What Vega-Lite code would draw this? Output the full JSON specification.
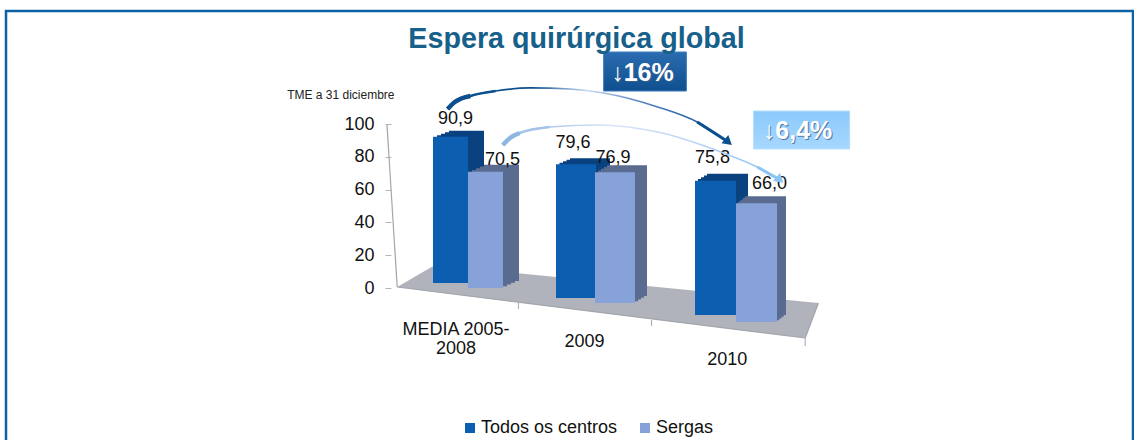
{"$schema":"https://vega.github.io/schema/vega-lite/v6.json","width":1127,"height":440,"autosize":"none","padding":{"left":6,"top":11,"right":1,"bottom":0},"background":"white","view":{"stroke":"#0b62a4","strokeWidth":2.5},"config":{"font":"Liberation Sans","legend":{"orient":"none","legendX":455,"legendY":408,"direction":"horizontal","columns":2,"columnPadding":18,"symbolType":"square","symbolSize":100,"symbolStrokeWidth":0,"labelFontSize":18,"labelColor":"#111111","labelOffset":2,"padding":0}},"title":{"text":"Espera quirúrgica global","fontSize":28.7,"fontWeight":"bold","color":"#17608a","anchor":"middle","dx":7,"dy":43,"offset":0},"datasets":{"bars":[{"cat":"MEDIA 2005-2008","series":"Todos os centros","value":90.9,"label":"90,9"},{"cat":"MEDIA 2005-2008","series":"Sergas","value":70.5,"label":"70,5"},{"cat":"2009","series":"Todos os centros","value":79.6,"label":"79,6"},{"cat":"2009","series":"Sergas","value":76.9,"label":"76,9"},{"cat":"2010","series":"Todos os centros","value":75.8,"label":"75,8"},{"cat":"2010","series":"Sergas","value":66.0,"label":"66,0"}],"floor":[{"ux":-0.19,"uy":0.6,"uy2":0.6},{"ux":0.125,"uy":14.0,"uy2":-2.4},{"ux":3.21,"uy":-8.35,"uy2":-30.5},{"ux":3.32,"uy":-9.15,"uy2":-9.15}],"edge":[{"ux":-0.275,"uy":99.4,"e":"wall"},{"ux":-0.19,"uy":0.6,"e":"wall"},{"ux":-0.19,"uy":0.6,"e":"front"},{"ux":3.21,"uy":-30.5,"e":"front"},{"ux":3.21,"uy":-30.5,"e":"right"},{"ux":3.32,"uy":-9.15,"e":"right"}],"ticks":[{"ux":0.82,"uy":-9.15,"uy2":-12.8},{"ux":1.93,"uy":-19.5,"uy2":-23.2},{"ux":3.21,"uy":-30.5,"uy2":-35.4}],"cats":[{"label":"MEDIA 2005-\n2008","ux":0.3,"uy":-25.6},{"label":"2009","ux":1.37,"uy":-32.9},{"label":"2010","ux":2.56,"uy":-43.9}],"arcs":[{"arc":"a","ux":0.23,"uy":109.1},{"arc":"a","ux":0.29,"uy":113.4},{"arc":"a","ux":0.42,"uy":117.1},{"arc":"a","ux":0.63,"uy":120.1},{"arc":"a","ux":0.92,"uy":122},{"arc":"a","ux":1.25,"uy":121.3},{"arc":"a","ux":1.53,"uy":118.9},{"arc":"a","ux":1.98,"uy":110.4},{"arc":"a","ux":2.31,"uy":101.2},{"arc":"a","ux":2.57,"uy":89},{"arc":"b","ux":0.69,"uy":87.2},{"arc":"b","ux":0.75,"uy":91.5},{"arc":"b","ux":0.83,"uy":94.5},{"arc":"b","ux":1.08,"uy":98.2},{"arc":"b","ux":1.48,"uy":99.4},{"arc":"b","ux":1.98,"uy":95.1},{"arc":"b","ux":2.53,"uy":82.3},{"arc":"b","ux":2.81,"uy":73.8},{"arc":"b","ux":3.0,"uy":65.9}],"badges":[{"arc":"a","ux":1.53,"ux2":2.22,"uy":143.9,"uy2":120.1},{"arc":"b","ux":2.78,"ux2":3.58,"uy":107.9,"uy2":84.8}],"badgeText":[{"text":"↓16%","ux":1.854,"uy":131.1},{"text":"↓6,4%","ux":3.146,"uy":95.7}]},"data":{"name":"bars"},"resolve":{"scale":{"x":"independent","y":"independent"},"axis":{"x":"independent","y":"independent"}},"layer":[{"encoding":{"x":{"field":"ux","type":"quantitative","axis":null,"scale":{"domain":[0,3],"range":[414,774],"zero":false,"nice":false}},"y":{"field":"uy","type":"quantitative","title":"TME a 31 diciembre","scale":{"domain":[0,100],"range":[277,113],"zero":false,"nice":false},"axis":{"orient":"left","offset":-385,"domain":false,"ticks":true,"tickSize":6,"tickColor":"#b5b5b5","grid":false,"values":[0,20,40,60,80,100],"labelFontSize":18,"labelColor":"#111111","labelPadding":11,"titleFontSize":12,"titleFontWeight":"normal","titleColor":"#222222","titleAngle":0,"titleAlign":"right","titleBaseline":"middle","titleX":3,"titleY":83}}},"layer":[{"data":{"name":"floor"},"mark":{"type":"area","color":"#b0b3bc","stroke":null},"encoding":{"y2":{"field":"uy2"}}},{"data":{"name":"edge"},"mark":{"type":"line","color":"#a3a6ad","strokeWidth":1.2},"encoding":{"detail":{"field":"e"}}},{"data":{"name":"ticks"},"mark":{"type":"rule","color":"#a3a6ad"},"encoding":{"y2":{"field":"uy2"}}},{"data":{"name":"cats"},"mark":{"type":"text","fontSize":18,"color":"#111111","lineBreak":"\n","lineHeight":19,"baseline":"middle"},"encoding":{"text":{"field":"label"}}}]},{"transform":[{"filter":"datum.cat=='MEDIA 2005-2008' && datum.series=='Todos os centros'"}],"encoding":{"x":{"field":"cat","type":"nominal","axis":null,"scale":{"range":[427,462],"padding":0}},"y":{"field":"value","type":"quantitative","axis":null,"scale":{"domain":[0,100],"range":[272,111],"nice":false}}},"layer":[{"mark":{"type":"bar","color":"#0a4280","xOffset":16,"yOffset":-6}},{"mark":{"type":"bar","color":"#0a4280","xOffset":12,"yOffset":-4.5}},{"mark":{"type":"bar","color":"#0a4280","xOffset":8,"yOffset":-3}},{"mark":{"type":"bar","color":"#0a4280","xOffset":4,"yOffset":-1.5}},{"mark":{"type":"bar"},"encoding":{"color":{"field":"series","type":"nominal","title":null,"scale":{"domain":["Todos os centros","Sergas"],"range":["#0c5fb0","#86a2d8"]}}}},{"mark":{"type":"text","fontSize":18,"color":"#111111","baseline":"middle","dx":5,"dy":-18},"encoding":{"text":{"field":"label"}}}]},{"transform":[{"filter":"datum.cat=='MEDIA 2005-2008' && datum.series=='Sergas'"}],"encoding":{"x":{"field":"cat","type":"nominal","axis":null,"scale":{"range":[462,497],"padding":0}},"y":{"field":"value","type":"quantitative","axis":null,"scale":{"domain":[0,100],"range":[277,112],"nice":false}}},"layer":[{"mark":{"type":"bar","color":"#5a6b90","xOffset":16,"yOffset":-7}},{"mark":{"type":"bar","color":"#5a6b90","xOffset":12,"yOffset":-5.25}},{"mark":{"type":"bar","color":"#5a6b90","xOffset":8,"yOffset":-3.5}},{"mark":{"type":"bar","color":"#5a6b90","xOffset":4,"yOffset":-1.75}},{"mark":{"type":"bar"},"encoding":{"color":{"field":"series","type":"nominal","title":null,"scale":{"domain":["Todos os centros","Sergas"],"range":["#0c5fb0","#86a2d8"]}}}},{"mark":{"type":"text","fontSize":18,"color":"#111111","baseline":"middle","dx":17,"dy":-12},"encoding":{"text":{"field":"label"}}}]},{"transform":[{"filter":"datum.cat=='2009' && datum.series=='Todos os centros'"}],"encoding":{"x":{"field":"cat","type":"nominal","axis":null,"scale":{"range":[550,590],"padding":0}},"y":{"field":"value","type":"quantitative","axis":null,"scale":{"domain":[0,100],"range":[287,119],"nice":false}}},"layer":[{"mark":{"type":"bar","color":"#0a4280","xOffset":14,"yOffset":-6}},{"mark":{"type":"bar","color":"#0a4280","xOffset":10.5,"yOffset":-4.5}},{"mark":{"type":"bar","color":"#0a4280","xOffset":7,"yOffset":-3}},{"mark":{"type":"bar","color":"#0a4280","xOffset":3.5,"yOffset":-1.5}},{"mark":{"type":"bar"},"encoding":{"color":{"field":"series","type":"nominal","title":null,"scale":{"domain":["Todos os centros","Sergas"],"range":["#0c5fb0","#86a2d8"]}}}},{"mark":{"type":"text","fontSize":18,"color":"#111111","baseline":"middle","dx":-3,"dy":-21},"encoding":{"text":{"field":"label"}}}]},{"transform":[{"filter":"datum.cat=='2009' && datum.series=='Sergas'"}],"encoding":{"x":{"field":"cat","type":"nominal","axis":null,"scale":{"range":[589,629],"padding":0}},"y":{"field":"value","type":"quantitative","axis":null,"scale":{"domain":[0,100],"range":[292,122],"nice":false}}},"layer":[{"mark":{"type":"bar","color":"#5a6b90","xOffset":12,"yOffset":-7}},{"mark":{"type":"bar","color":"#5a6b90","xOffset":9,"yOffset":-5.25}},{"mark":{"type":"bar","color":"#5a6b90","xOffset":6,"yOffset":-3.5}},{"mark":{"type":"bar","color":"#5a6b90","xOffset":3,"yOffset":-1.75}},{"mark":{"type":"bar"},"encoding":{"color":{"field":"series","type":"nominal","title":null,"scale":{"domain":["Todos os centros","Sergas"],"range":["#0c5fb0","#86a2d8"]}}}},{"mark":{"type":"text","fontSize":18,"color":"#111111","baseline":"middle","dx":-2,"dy":-14},"encoding":{"text":{"field":"label"}}}]},{"transform":[{"filter":"datum.cat=='2010' && datum.series=='Todos os centros'"}],"encoding":{"x":{"field":"cat","type":"nominal","axis":null,"scale":{"range":[689,730],"padding":0}},"y":{"field":"value","type":"quantitative","axis":null,"scale":{"domain":[0,100],"range":[304,127],"nice":false}}},"layer":[{"mark":{"type":"bar","color":"#0a4280","xOffset":12,"yOffset":-7}},{"mark":{"type":"bar","color":"#0a4280","xOffset":9,"yOffset":-5.25}},{"mark":{"type":"bar","color":"#0a4280","xOffset":6,"yOffset":-3.5}},{"mark":{"type":"bar","color":"#0a4280","xOffset":3,"yOffset":-1.75}},{"mark":{"type":"bar"},"encoding":{"color":{"field":"series","type":"nominal","title":null,"scale":{"domain":["Todos os centros","Sergas"],"range":["#0c5fb0","#86a2d8"]}}}},{"mark":{"type":"text","fontSize":18,"color":"#111111","baseline":"middle","dx":-3,"dy":-23},"encoding":{"text":{"field":"label"}}}]},{"transform":[{"filter":"datum.cat=='2010' && datum.series=='Sergas'"}],"encoding":{"x":{"field":"cat","type":"nominal","axis":null,"scale":{"range":[730,771],"padding":0}},"y":{"field":"value","type":"quantitative","axis":null,"scale":{"domain":[0,100],"range":[311,131],"nice":false}}},"layer":[{"mark":{"type":"bar","color":"#5a6b90","xOffset":9,"yOffset":-7}},{"mark":{"type":"bar","color":"#5a6b90","xOffset":6.75,"yOffset":-5.25}},{"mark":{"type":"bar","color":"#5a6b90","xOffset":4.5,"yOffset":-3.5}},{"mark":{"type":"bar","color":"#5a6b90","xOffset":2.25,"yOffset":-1.75}},{"mark":{"type":"bar"},"encoding":{"color":{"field":"series","type":"nominal","title":null,"scale":{"domain":["Todos os centros","Sergas"],"range":["#0c5fb0","#86a2d8"]}}}},{"mark":{"type":"text","fontSize":18,"color":"#111111","baseline":"middle","dx":13,"dy":-19},"encoding":{"text":{"field":"label"}}}]},{"encoding":{"x":{"field":"ux","type":"quantitative","axis":null,"scale":{"domain":[0,3],"range":[414,774],"zero":false,"nice":false}},"y":{"field":"uy","type":"quantitative","axis":null,"scale":{"domain":[0,100],"range":[277,113],"zero":false,"nice":false}}},"layer":[{"data":{"name":"arcs"},"transform":[{"filter":"datum.arc=='a'"}],"mark":{"type":"line","interpolate":"monotone","strokeWidth":1.6,"stroke":{"gradient":"linear","x1":0,"y1":0,"x2":1,"y2":0,"stops":[{"offset":0,"color":"#0b4f8f"},{"offset":0.3,"color":"#0b4f8f"},{"offset":0.5,"color":"#c8d8f2"},{"offset":0.68,"color":"#5b86c4"},{"offset":1,"color":"#0b4f8f"}]}}},{"data":{"name":"arcs"},"transform":[{"filter":"datum.arc=='b'"}],"mark":{"type":"line","interpolate":"monotone","strokeWidth":1.6,"stroke":{"gradient":"linear","x1":0,"y1":0,"x2":1,"y2":0,"stops":[{"offset":0,"color":"#8fb6e3"},{"offset":0.4,"color":"#d9e4f7"},{"offset":0.7,"color":"#b9d4f4"},{"offset":1,"color":"#8cc4f5"}]}}},{"data":{"name":"arcs"},"transform":[{"filter":"datum.arc=='a' && datum.ux<=0.63"}],"mark":{"type":"line","interpolate":"monotone","strokeWidth":2.5,"color":"#0b4f8f"}},{"data":{"name":"arcs"},"transform":[{"filter":"datum.arc=='a' && datum.ux<=0.42"}],"mark":{"type":"line","interpolate":"monotone","strokeWidth":4.5,"color":"#0b4f8f"}},{"data":{"name":"arcs"},"transform":[{"filter":"datum.arc=='a' && datum.ux>=2.31"}],"mark":{"type":"line","interpolate":"monotone","strokeWidth":3,"color":"#0b4f8f"}},{"data":{"name":"arcs"},"transform":[{"filter":"datum.arc=='b' && datum.ux<=1.08"}],"mark":{"type":"line","interpolate":"monotone","strokeWidth":2.5,"color":"#a5c3ea"}},{"data":{"name":"arcs"},"transform":[{"filter":"datum.arc=='b' && datum.ux<=0.83"}],"mark":{"type":"line","interpolate":"monotone","strokeWidth":4.5,"color":"#8fb6e3"}},{"data":{"name":"arcs"},"transform":[{"filter":"datum.arc=='b' && datum.ux>=2.81"}],"mark":{"type":"line","interpolate":"monotone","strokeWidth":3,"color":"#8cc4f5"}},{"data":{"name":"arcs"},"transform":[{"filter":"datum.arc=='a' && datum.ux>=2.57"}],"mark":{"type":"point","shape":"triangle-up","angle":130,"size":110,"filled":true,"color":"#0b4f8f","opacity":1}},{"data":{"name":"arcs"},"transform":[{"filter":"datum.arc=='b' && datum.ux>=3.0"}],"mark":{"type":"point","shape":"triangle-up","angle":130,"size":110,"filled":true,"color":"#8cc4f5","opacity":1}},{"data":{"name":"badges"},"mark":{"type":"rect","color":"#8a8f99","opacity":0.6,"xOffset":1.5,"yOffset":2},"encoding":{"x2":{"field":"ux2"},"y2":{"field":"uy2"}}},{"data":{"name":"badges"},"transform":[{"filter":"datum.arc=='a'"}],"mark":{"type":"rect","stroke":"#3f7fbf","strokeWidth":1,"fill":{"gradient":"linear","x1":0,"y1":0,"x2":0,"y2":1,"stops":[{"offset":0,"color":"#2a6cb0"},{"offset":1,"color":"#0f4f8f"}]}},"encoding":{"x2":{"field":"ux2"},"y2":{"field":"uy2"}}},{"data":{"name":"badges"},"transform":[{"filter":"datum.arc=='b'"}],"mark":{"type":"rect","stroke":"#b5dcfb","strokeWidth":1,"fill":{"gradient":"linear","x1":0,"y1":0,"x2":0,"y2":1,"stops":[{"offset":0,"color":"#8cc9fb"},{"offset":1,"color":"#a6d8ff"}]}},"encoding":{"x2":{"field":"ux2"},"y2":{"field":"uy2"}}},{"data":{"name":"badgeText"},"mark":{"type":"text","fontSize":25,"fontWeight":"bold","color":"#40608a","opacity":0.8,"baseline":"middle","dx":1,"dy":1},"encoding":{"text":{"field":"text"}}},{"data":{"name":"badgeText"},"mark":{"type":"text","fontSize":25,"fontWeight":"bold","color":"#ffffff","baseline":"middle"},"encoding":{"text":{"field":"text"}}}]}]}
